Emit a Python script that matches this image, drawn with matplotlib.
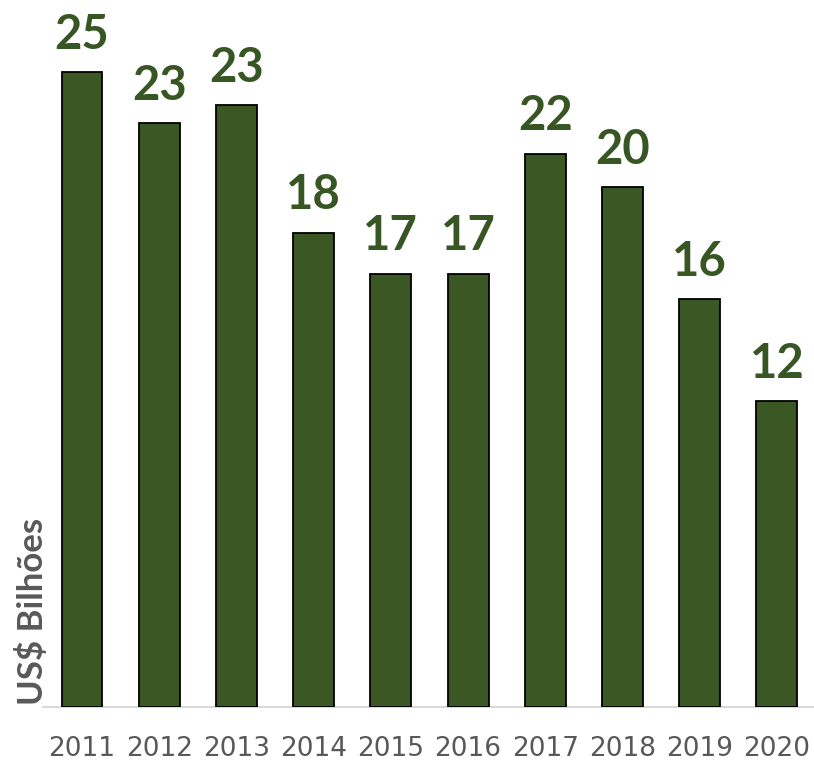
import matplotlib
matplotlib.use("Agg")
import matplotlib.pyplot as plt

years = ["2011", "2012", "2013", "2014", "2015", "2016", "2017", "2018", "2019", "2020"]
values = [24.9, 22.9, 23.6, 18.6, 17.0, 17.0, 21.7, 20.4, 16.0, 12.0]
labels = ["25", "23", "23", "18", "17", "17", "22", "20", "16", "12"]

bar_color = "#3a5724"
label_color = "#375623"
gray = "#595959"

fig = plt.figure(figsize=(8.14, 7.61), dpi=100)
W, H = 814, 761
left, right, bottom, top = 43, 814, 707, 0
ax = fig.add_axes([left / W, (H - bottom) / H, (right - left) / W, (bottom - top) / H])

x = list(range(len(years)))
ax.bar(x, values, width=0.53, color=bar_color, edgecolor="black", linewidth=1.3, zorder=3)
ax.set_xlim(-0.505, 9.48)
ax.set_ylim(0, 707 / 25.5)

for xi, v, lab in zip(x, values, labels):
    ax.annotate(lab, (xi, v), xytext=(0, 11), textcoords="offset points",
                ha="center", va="bottom", fontsize=34, fontweight="bold",
                color=label_color, family="Lato")

for s in ["top", "right", "left"]:
    ax.spines[s].set_visible(False)
ax.spines["bottom"].set_color("#d9d9d9")
ax.spines["bottom"].set_linewidth(1.5)
ax.set_yticks([])
ax.set_xticks(x)
ax.set_xticklabels(years, fontsize=19, color=gray, family="DejaVu Sans")
ax.tick_params(axis="x", length=0, pad=21)

fig.text(33 / W, (H - 705) / H, "US$ Bilhões", rotation=90, ha="center", va="bottom",
         fontsize=25, fontweight="bold", color=gray, family="Lato")

fig.savefig("out.png", dpi=100)
